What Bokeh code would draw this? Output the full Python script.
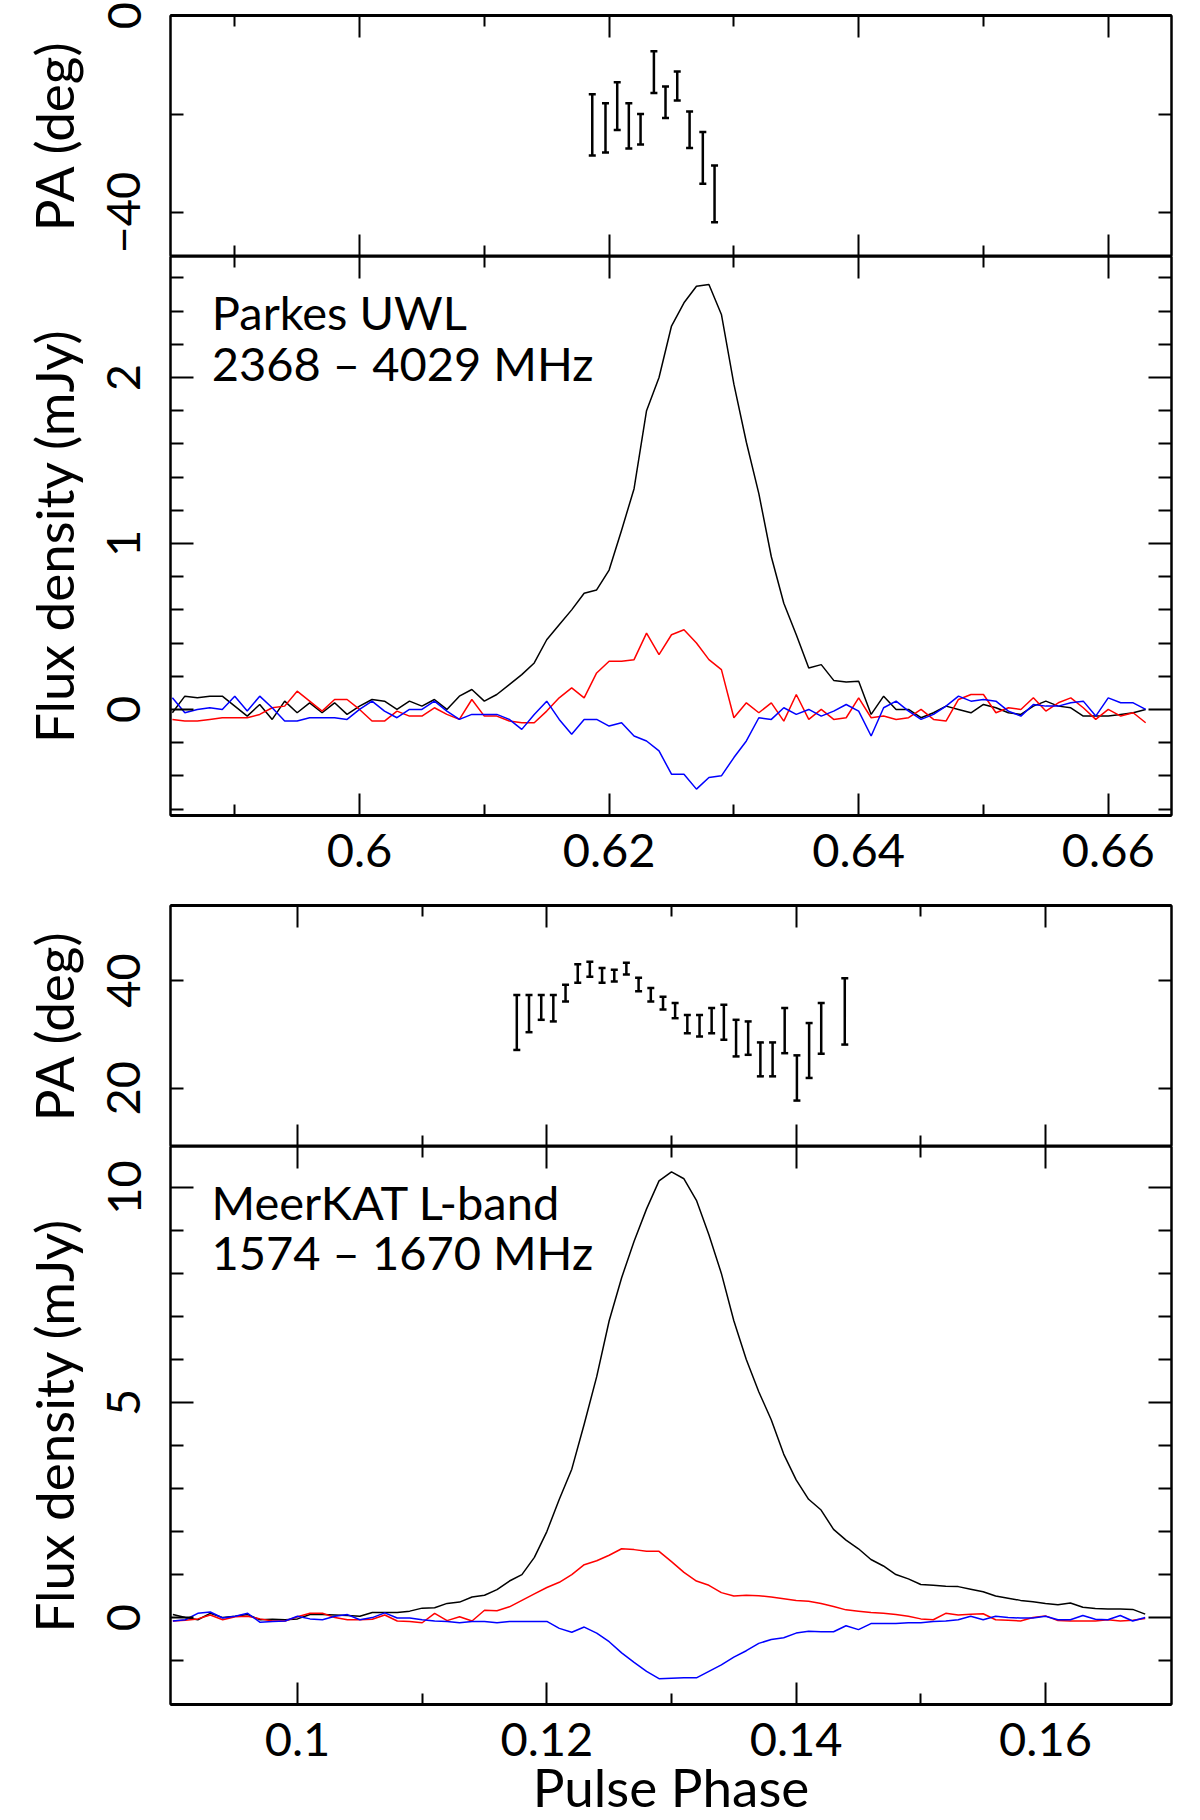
from bokeh.plotting import figure
from bokeh.models import Range1d, LinearAxis, FixedTicker, ColumnDataSource, Whisker, TeeHead, Label
from bokeh.layouts import column
from bokeh.embed import file_html
from bokeh.resources import INLINE

FONT = "Lato"

# ---------------- Parkes UWL (2368 - 4029 MHz) ----------------
pks_phase = [0.585, 0.586, 0.587, 0.588, 0.589, 0.590, 0.591, 0.592, 0.593, 0.594,
             0.595, 0.596, 0.597, 0.598, 0.599, 0.600, 0.601, 0.602, 0.603, 0.604,
             0.605, 0.606, 0.607, 0.608, 0.609, 0.610, 0.611, 0.612, 0.613, 0.614,
             0.615, 0.616, 0.617, 0.618, 0.619, 0.620, 0.621, 0.622, 0.623, 0.624,
             0.625, 0.626, 0.627, 0.628, 0.629, 0.630, 0.631, 0.632, 0.633, 0.634,
             0.635, 0.636, 0.637, 0.638, 0.639, 0.640, 0.641, 0.642, 0.643, 0.644,
             0.645, 0.646, 0.647, 0.648, 0.649, 0.650, 0.651, 0.652, 0.653, 0.654,
             0.655, 0.656, 0.657, 0.658, 0.659, 0.660, 0.661, 0.662, 0.663]
pks_I = [-0.02, 0.08, 0.07, 0.08, 0.08, 0.02, -0.04, 0.03, -0.06, 0.05,
         -0.02, 0.04, -0.02, 0.04, -0.03, 0.02, 0.06, 0.05, 0.00, 0.05,
         0.02, 0.06, 0.00, 0.08, 0.12, 0.05, 0.09, 0.15, 0.21, 0.28,
         0.42, 0.51, 0.60, 0.70, 0.72, 0.84, 1.08, 1.33, 1.80, 2.00,
         2.31, 2.45, 2.55, 2.56, 2.38, 1.96, 1.61, 1.30, 0.92, 0.64,
         0.45, 0.25, 0.27, 0.175, 0.165, 0.17, -0.03, 0.08, 0.00, 0.00,
         -0.05, -0.02, 0.02, 0.00, -0.02, 0.03, 0.01, -0.02, -0.03, 0.02,
         0.05, 0.02, 0.01, -0.04, -0.04, -0.04, -0.03, -0.02, 0.00]
pks_L = [-0.06, -0.07, -0.07, -0.06, -0.05, -0.05, -0.05, -0.03, 0.01, 0.02,
         0.11, 0.05, -0.01, 0.06, 0.06, 0.00, -0.07, -0.07, -0.01, -0.04,
         -0.04, 0.01, -0.03, -0.06, 0.06, -0.04, -0.04, -0.07, -0.08, -0.08,
         -0.01, 0.07, 0.13, 0.07, 0.22, 0.29, 0.29, 0.30, 0.46, 0.33,
         0.45, 0.48, 0.40, 0.30, 0.24, -0.05, 0.04, -0.02, 0.04, -0.07,
         0.09, -0.06, 0.00, -0.06, -0.05, 0.07, -0.05, -0.04, -0.06, -0.05,
         0.00, -0.06, -0.07, 0.06, 0.09, 0.09, -0.02, 0.01, 0.00, 0.07,
         -0.01, 0.04, 0.07, 0.01, -0.06, 0.00, -0.04, -0.02, -0.08]
pks_V = [0.07, -0.02, 0.00, 0.01, 0.00, 0.08, -0.01, 0.08, 0.01, -0.07,
         -0.07, -0.05, -0.05, -0.05, -0.06, 0.00, 0.05, -0.01, -0.05, 0.00,
         0.00, 0.05, -0.01, -0.06, -0.03, -0.03, -0.03, -0.06, -0.12, -0.03,
         0.05, -0.06, -0.15, -0.06, -0.06, -0.10, -0.08, -0.16, -0.19, -0.25,
         -0.39, -0.39, -0.48, -0.41, -0.40, -0.29, -0.19, -0.05, -0.06, 0.01,
         -0.03, 0.00, -0.04, -0.01, 0.03, -0.01, -0.16, 0.01, 0.05, -0.01,
         -0.06, -0.03, 0.02, 0.08, 0.05, 0.06, 0.05, -0.01, -0.04, 0.03,
         0.02, 0.02, 0.04, 0.05, -0.04, 0.07, 0.04, 0.04, 0.00]
pks_pa_phase = [0.61865, 0.61971, 0.62065, 0.62158, 0.62252, 0.62359,
                0.62452, 0.62546, 0.62645, 0.62751, 0.62845]
pks_pa = [-22.2, -22.8, -18.4, -22.4, -23.1, -11.5, -17.6, -14.3, -23.2, -28.9, -36.2]
pks_pa_err = [6.2, 5.0, 4.85, 4.6, 3.1, 4.25, 3.2, 2.95, 3.7, 5.25, 5.75]

# ---------------- MeerKAT L-band (1574 - 1670 MHz) ----------------
mk_phase = [0.090, 0.091, 0.092, 0.093, 0.094, 0.095, 0.096, 0.097, 0.098, 0.099,
            0.100, 0.101, 0.102, 0.103, 0.104, 0.105, 0.106, 0.107, 0.108, 0.109,
            0.110, 0.111, 0.112, 0.113, 0.114, 0.115, 0.116, 0.117, 0.118, 0.119,
            0.120, 0.121, 0.122, 0.123, 0.124, 0.125, 0.126, 0.127, 0.128, 0.129,
            0.130, 0.131, 0.132, 0.133, 0.134, 0.135, 0.136, 0.137, 0.138, 0.139,
            0.140, 0.141, 0.142, 0.143, 0.144, 0.145, 0.146, 0.147, 0.148, 0.149,
            0.150, 0.151, 0.152, 0.153, 0.154, 0.155, 0.156, 0.157, 0.158, 0.159,
            0.160, 0.161, 0.162, 0.163, 0.164, 0.165, 0.166, 0.167, 0.168]
mk_I = [0.07, 0.00, -0.05, 0.10, 0.00, 0.03, 0.07, -0.05, -0.04, -0.05,
        -0.03, 0.07, 0.07, 0.06, 0.05, 0.03, 0.12, 0.12, 0.12, 0.15,
        0.22, 0.23, 0.33, 0.36, 0.48, 0.52, 0.65, 0.85, 1.00, 1.40,
        2.00, 2.75, 3.45, 4.50, 5.60, 6.90, 7.90, 8.75, 9.50, 10.15,
        10.36, 10.20, 9.70, 8.90, 8.00, 6.90, 6.00, 5.25, 4.60, 3.80,
        3.20, 2.75, 2.50, 2.05, 1.80, 1.60, 1.35, 1.20, 1.00, 0.90,
        0.77, 0.75, 0.73, 0.72, 0.66, 0.60, 0.50, 0.45, 0.40, 0.37,
        0.33, 0.30, 0.34, 0.24, 0.21, 0.20, 0.20, 0.19, 0.08]
mk_L = [-0.08, -0.06, -0.03, 0.06, -0.05, 0.02, 0.03, -0.03, -0.08, -0.08,
        0.02, 0.10, 0.10, 0.00, -0.05, -0.05, -0.04, 0.06, -0.08, -0.09,
        -0.12, 0.10, -0.07, 0.02, -0.08, 0.17, 0.16, 0.25, 0.40, 0.55,
        0.70, 0.82, 1.00, 1.23, 1.32, 1.45, 1.60, 1.58, 1.54, 1.54,
        1.30, 1.05, 0.85, 0.75, 0.58, 0.50, 0.52, 0.51, 0.48, 0.44,
        0.40, 0.38, 0.33, 0.26, 0.18, 0.15, 0.12, 0.10, 0.07, 0.03,
        -0.03, -0.05, 0.10, 0.06, 0.08, 0.09, -0.05, -0.06, -0.08, 0.00,
        0.04, -0.07, -0.08, -0.08, -0.08, -0.05, -0.08, -0.06, -0.02]
mk_V = [-0.08, -0.05, 0.10, 0.13, -0.01, 0.03, 0.10, -0.11, -0.09, -0.08,
        0.03, -0.03, -0.05, 0.03, 0.07, -0.05, 0.00, 0.11, -0.01, -0.01,
        -0.05, -0.08, -0.09, -0.12, -0.09, -0.09, -0.12, -0.09, -0.09, -0.09,
        -0.09, -0.25, -0.34, -0.22, -0.36, -0.56, -0.82, -1.04, -1.25, -1.42,
        -1.41, -1.40, -1.40, -1.25, -1.10, -0.92, -0.77, -0.60, -0.51, -0.47,
        -0.36, -0.32, -0.33, -0.33, -0.19, -0.28, -0.14, -0.14, -0.14, -0.12,
        -0.12, -0.09, -0.08, -0.05, 0.03, -0.05, 0.03, 0.00, -0.01, -0.01,
        0.03, -0.05, -0.05, 0.05, -0.04, -0.05, 0.05, -0.08, 0.00]
mk_pa_phase = [0.11759, 0.11857, 0.11955, 0.12052, 0.12150, 0.12248, 0.12345,
               0.12443, 0.12541, 0.12638, 0.12736, 0.12834, 0.12932, 0.13029,
               0.13127, 0.13225, 0.13322, 0.13420, 0.13518, 0.13615, 0.13713,
               0.13811, 0.13908, 0.14006, 0.14104, 0.14201, 0.14390]
mk_pa = [32.2, 33.85, 35.0, 34.85, 37.65, 41.3, 42.1, 40.95, 40.9, 42.2,
         39.25, 37.35, 35.8, 34.4, 31.9, 31.6, 32.55, 32.25, 29.3, 29.3,
         25.35, 25.35, 30.7, 21.9, 27.0, 31.1, 34.25]
mk_pa_err = [5.1, 3.45, 2.3, 2.45, 1.55, 1.7, 1.4, 1.35, 1.1, 1.1,
             1.25, 1.25, 1.2, 1.4, 1.7, 2.0, 2.35, 3.25, 3.4, 3.1,
             3.15, 3.15, 4.2, 4.2, 5.1, 4.7, 6.15]

# axis ticks
pks_xticks, pks_xminor = [0.60, 0.62, 0.64, 0.66], [0.59, 0.61, 0.63, 0.65]
mk_xticks, mk_xminor = [0.10, 0.12, 0.14, 0.16], [0.11, 0.13, 0.15]
pks_pa_ticks, pks_pa_minor = [-40, 0], [-20]
mk_pa_ticks = [20, 40]
pks_fl_ticks = [0, 1, 2]
pks_fl_minor = [-0.6, -0.4, -0.2, 0.2, 0.4, 0.6, 0.8, 1.2, 1.4, 1.6, 1.8, 2.2, 2.4, 2.6]
mk_fl_ticks = [0, 5, 10]
mk_fl_minor = [-1, 1, 2, 3, 4, 6, 7, 8, 9]

W = 1190
BL, BR = 170, 19


def make_fig(height, xr, yr, btop, bbot):
    p = figure(width=W, height=height, x_range=xr, y_range=yr,
               output_backend="svg", toolbar_location=None,
               x_axis_location=None, y_axis_location=None,
               min_border_left=BL, min_border_right=BR,
               min_border_top=btop, min_border_bottom=bbot)
    p.grid.visible = False
    p.outline_line_color = "black"
    p.outline_line_width = 2
    p.background_fill_color = "white"
    p.border_fill_color = "white"
    return p


def add_axis(p, side, ticks, minor, major_in, minor_in, line_w,
             labels=False, axis_label=None, label_standoff=10, axis_label_standoff=10):
    ax = LinearAxis(ticker=FixedTicker(ticks=ticks, minor_ticks=minor))
    ax.major_tick_in = major_in
    ax.major_tick_out = 0
    ax.minor_tick_in = minor_in
    ax.minor_tick_out = 0
    ax.major_tick_line_width = 2
    ax.minor_tick_line_width = 2
    ax.major_tick_line_color = "black"
    ax.minor_tick_line_color = "black"
    ax.axis_line_width = line_w
    ax.axis_line_color = "black"
    if labels:
        ax.major_label_text_font = FONT
        ax.major_label_text_font_size = "47px"
        ax.major_label_text_color = "black"
        ax.major_label_standoff = label_standoff
        if side == "left":
            ax.major_label_orientation = "vertical"
    else:
        ax.major_label_text_font_size = "0px"
        ax.major_label_text_color = None
        ax.major_label_standoff = 0
    if axis_label:
        ax.axis_label = axis_label
        ax.axis_label_text_font = FONT
        ax.axis_label_text_font_size = "53px"
        ax.axis_label_text_font_style = "normal"
        ax.axis_label_text_color = "black"
        ax.axis_label_standoff = axis_label_standoff
    p.add_layout(ax, side)
    return ax


def pa_panel(height, xr, yr, btop, xt, xm, yt, ym, ph, pa, err):
    p = make_fig(height, xr, yr, btop, 0)
    add_axis(p, "above", xt, xm, 22, 11, 3)
    add_axis(p, "below", xt, xm, 22, 11, 2)
    add_axis(p, "left", yt, ym, 13, 13, 2, labels=True, axis_label="PA (deg)",
             label_standoff=30, axis_label_standoff=20)
    add_axis(p, "right", yt, ym, 13, 13, 2)
    lower = [v - e for v, e in zip(pa, err)]
    upper = [v + e for v, e in zip(pa, err)]
    src = ColumnDataSource(dict(x=ph, lower=lower, upper=upper))
    w = Whisker(source=src, base="x", lower="lower", upper="upper",
                line_color="black", line_width=2.5,
                lower_head=TeeHead(size=7, line_width=2.5, line_color="black"),
                upper_head=TeeHead(size=7, line_width=2.5, line_color="black"))
    p.add_layout(w)
    return p


def flux_panel(height, xr, yr, bbot, xt, xm, yt, ym, ph, I, L, V,
               xlabel=None, xlabel_standoff=0):
    p = make_fig(height, xr, yr, 0, bbot)
    add_axis(p, "above", xt, xm, 22, 11, 2)
    add_axis(p, "below", xt, xm, 22, 11, 3, labels=True, label_standoff=18,
             axis_label=xlabel, axis_label_standoff=xlabel_standoff)
    add_axis(p, "left", yt, ym, 23, 13, 2, labels=True, axis_label="Flux density (mJy)",
             label_standoff=30, axis_label_standoff=20)
    add_axis(p, "right", yt, ym, 23, 13, 2)
    p.line(ph, I, line_color="black", line_width=1.5)
    p.line(ph, L, line_color="#ff0000", line_width=1.5)
    p.line(ph, V, line_color="#0000ff", line_width=1.5)
    return p


def note(p, x, y, text, size="47px", align="left"):
    p.add_layout(Label(x=x, y=y, text=text, text_font=FONT, text_font_size=size,
                       text_color="black", text_baseline="middle", text_align=align))


pks_x = Range1d(0.58485, 0.66507)
mk_x = Range1d(0.08981, 0.17011)

p1 = pa_panel(256, pks_x, Range1d(-48.9, 0), 15, pks_xticks, pks_xminor,
              pks_pa_ticks, pks_pa_minor, pks_pa_phase, pks_pa, pks_pa_err)
p2 = flux_panel(639, pks_x, Range1d(-0.639, 2.729), 80, pks_xticks, pks_xminor,
                pks_fl_ticks, pks_fl_minor, pks_phase, pks_I, pks_L, pks_V)
note(p2, 0.58816, 2.392, "Parkes UWL")
note(p2, 0.58816, 2.090, "2368 \u2013 4029 MHz")

p3 = pa_panel(251, mk_x, Range1d(9.17, 53.93), 10, mk_xticks, mk_xminor,
              mk_pa_ticks, [], mk_pa_phase, mk_pa, mk_pa_err)
p4 = flux_panel(674, mk_x, Range1d(-2.02, 10.95), 115, mk_xticks, mk_xminor,
                mk_fl_ticks, mk_fl_minor, mk_phase, mk_I, mk_L, mk_V,
                xlabel="Pulse Phase", xlabel_standoff=-4)
note(p4, 0.09310, 9.652, "MeerKAT L-band")
note(p4, 0.09310, 8.492, "1574 \u2013 1670 MHz")

layout = column(p1, p2, p3, p4, spacing=0)
open("out.html", "w").write(file_html(layout, INLINE))
